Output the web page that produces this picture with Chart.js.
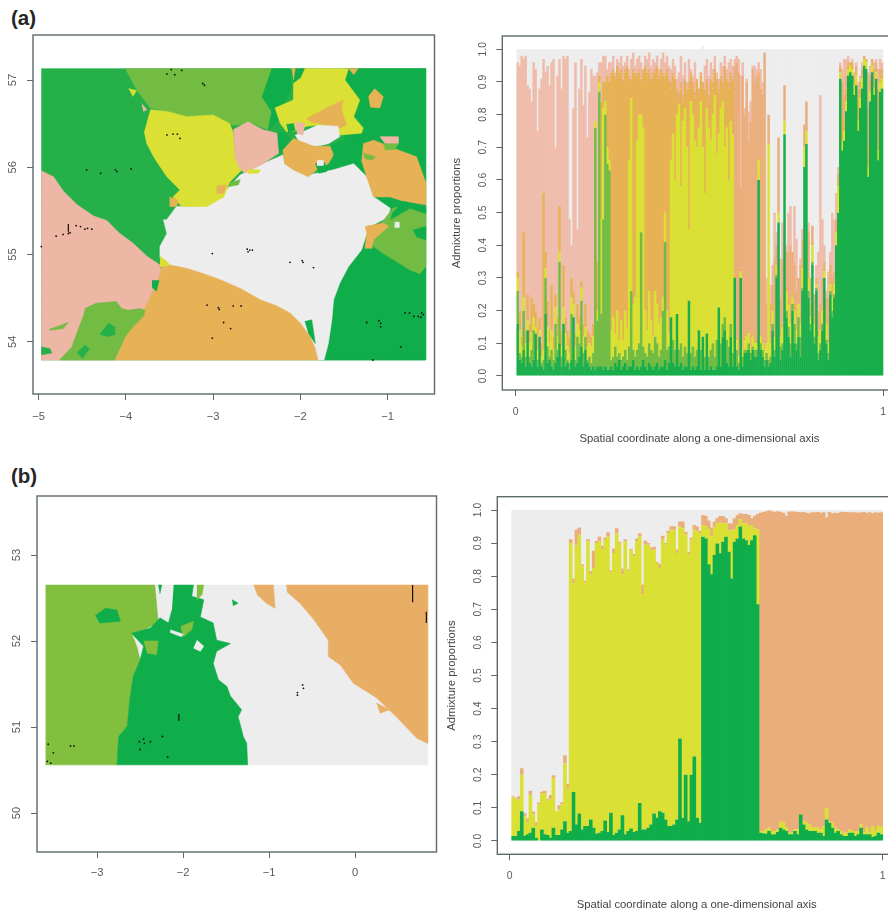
<!DOCTYPE html>
<html>
<head>
<meta charset="utf-8">
<title>Admixture maps</title>
<script src="https://cdn.jsdelivr.net/npm/chart.js@4"></script>
<style>
  html, body { margin: 0; padding: 0; width: 888px; height: 914px; overflow: hidden; background: #fff; }
  canvas { position: absolute; filter: blur(0.35px); }
  .tag { position: absolute; left: 11px; font: bold 20.5px "Liberation Sans", sans-serif; color: #262626; }
</style>
</head>
<body>
<div class="tag" style="top:6px">(a)</div>
<div class="tag" style="top:464px">(b)</div>
<canvas id="mapA"></canvas>
<canvas id="barsA"></canvas>
<canvas id="mapB"></canvas>
<canvas id="barsB"></canvas>
<script>
// ---- panel (a) map, lon/lat outlines ----
const aExtent = [[-4.97,57.13],[-0.565,57.13],[-0.565,53.79],[-4.97,53.79]];
const aEastDark = [[-1.5,57.13],[-0.565,57.13],[-0.565,53.79],[-1.8,53.79],[-1.8,56.2],[-1.5,56.3]];
const aCentreGrey = [[-3.53,55.40],[-3.42,55.55],[-3.23,55.55],[-3.04,55.59],[-2.85,55.74],[-2.69,55.91],[-2.43,56.04],[-2.20,56.14],[-2.18,56.04],[-2.08,55.97],[-1.91,55.91],[-1.62,55.97],[-1.39,56.04],[-1.24,55.89],[-1.16,55.66],[-0.97,55.53],[-0.99,55.43],[-1.20,55.32],[-1.24,55.24],[-1.30,55.05],[-1.45,54.86],[-1.55,54.67],[-1.62,54.48],[-1.64,54.25],[-1.68,53.98],[-1.73,53.79],[-1.80,53.79],[-2.2,54.3],[-3.0,54.7],[-3.59,54.86],[-3.61,54.98],[-3.61,55.09],[-3.53,55.24],[-3.57,55.40]];
const aSouthOrange = [[-3.59,54.86],[-3.50,54.88],[-3.30,54.84],[-3.11,54.78],[-2.92,54.71],[-2.69,54.61],[-2.46,54.48],[-2.27,54.41],[-2.12,54.33],[-2.00,54.21],[-1.89,54.06],[-1.83,53.92],[-1.80,53.79],[-4.13,53.79],[-3.99,54.08],[-3.84,54.33],[-3.72,54.52],[-3.65,54.67]];
const aWestPink = [[-4.97,55.96],[-4.83,55.89],[-4.72,55.73],[-4.56,55.57],[-4.37,55.44],[-4.22,55.39],[-4.07,55.24],[-3.92,55.13],[-3.76,54.98],[-3.61,54.88],[-3.60,54.82],[-3.65,54.67],[-3.72,54.52],[-3.84,54.29],[-3.99,54.10],[-4.13,53.79],[-4.97,53.79]];
const aSwLight = [[-4.47,54.38],[-4.34,54.44],[-4.11,54.46],[-4.05,54.38],[-3.97,54.36],[-3.84,54.38],[-3.78,54.36],[-3.80,54.29],[-3.92,54.17],[-4.01,54.06],[-4.13,53.79],[-4.76,53.79],[-4.62,53.94],[-4.55,54.13],[-4.49,54.29]];
const aSwSliver = [[-4.88,54.14],[-4.66,54.22],[-4.72,54.15],[-4.87,54.13]];
const aSwCorner = [[-4.97,53.94],[-4.87,53.92],[-4.85,53.87],[-4.97,53.85]];
const aSwPatch1 = [[-4.30,54.08],[-4.20,54.21],[-4.13,54.17],[-4.13,54.08],[-4.22,54.06]];
const aSwPatch2 = [[-4.56,53.87],[-4.47,53.96],[-4.42,53.92],[-4.50,53.81]];
const aNorthLight = [[-4.01,57.13],[-2.33,57.13],[-2.44,56.81],[-2.33,56.64],[-2.23,56.60],[-2.37,56.43],[-2.54,56.50],[-2.77,56.48],[-3.00,56.60],[-3.30,56.58],[-3.53,56.64],[-3.72,56.68],[-3.88,56.89]];
const aNorthDark = [[-2.33,57.13],[-2.12,57.13],[-2.10,56.92],[-2.16,56.77],[-2.27,56.66],[-2.22,56.60],[-2.31,56.48],[-2.37,56.43],[-2.33,56.64],[-2.44,56.81]];
const aMidDark = [[-2.31,56.35],[-2.20,56.41],[-2.12,56.33],[-2.16,56.27],[-2.18,56.18],[-2.27,56.16]];
const aTopDark = [[-2.06,57.13],[-1.95,57.13],[-2.00,57.02],[-2.08,56.96]];
const aWestYellow = [[-3.72,56.66],[-3.53,56.64],[-3.30,56.58],[-3.00,56.60],[-2.81,56.50],[-2.77,56.39],[-2.75,56.12],[-2.67,55.97],[-2.81,55.83],[-2.88,55.66],[-3.07,55.55],[-3.36,55.55],[-3.46,55.66],[-3.38,55.74],[-3.53,55.89],[-3.67,56.10],[-3.76,56.27],[-3.79,56.41]];
const aYellowFoot = [[-3.5,55.66],[-3.4,55.62],[-3.42,55.55],[-3.5,55.55]];
const aPinkSpot = [[-3.82,56.73],[-3.76,56.66],[-3.80,56.64]];
const aYellowStar = [[-3.97,56.90],[-3.88,56.88],[-3.92,56.81]];
const aCentrePink = [[-2.77,56.43],[-2.60,56.52],[-2.43,56.43],[-2.27,56.39],[-2.25,56.16],[-2.43,56.04],[-2.64,55.93],[-2.71,56.01],[-2.75,56.12]];
const aNorthYellow = [[-1.95,57.13],[-1.45,57.13],[-1.49,57.00],[-1.32,56.77],[-1.39,56.58],[-1.28,56.45],[-1.30,56.39],[-1.55,56.37],[-1.62,56.47],[-1.81,56.48],[-1.93,56.47],[-2.08,56.41],[-2.16,56.41],[-2.23,56.50],[-2.29,56.68],[-2.08,56.77],[-2.08,56.96],[-2.00,57.02]];
const aNorthPatch = [[-1.93,56.56],[-1.68,56.69],[-1.51,56.77],[-1.53,56.66],[-1.47,56.48],[-1.55,56.45],[-1.78,56.50],[-1.89,56.52]];
const aGreyBlob = [[-1.81,56.48],[-1.57,56.47],[-1.55,56.35],[-1.68,56.27],[-1.81,56.24],[-2.00,56.27],[-2.06,56.37]];
const aMidOrange = [[-2.08,56.33],[-1.85,56.24],[-1.66,56.24],[-1.62,56.14],[-1.68,56.04],[-1.81,55.97],[-1.91,55.89],[-2.08,55.97],[-2.18,56.04],[-2.20,56.20]];
const aClusterDark = [[-1.62,56.27],[-1.39,56.35],[-1.32,56.24],[-1.30,56.12],[-1.43,56.04],[-1.62,56.08]];
const aClusterDark2 = [[-1.83,56.04],[-1.72,56.05],[-1.70,55.95],[-1.79,55.93]];
const aEastPink = [[-1.09,56.35],[-0.88,56.35],[-0.88,56.27],[-1.01,56.24]];
const aEastOrange = [[-1.28,56.27],[-1.16,56.31],[-0.94,56.22],[-0.67,56.12],[-0.565,55.83],[-0.565,55.57],[-0.82,55.61],[-0.97,55.66],[-1.16,55.66],[-1.24,55.89],[-1.30,56.08]];
const aNeOrange = [[-1.22,56.81],[-1.15,56.90],[-1.05,56.81],[-1.09,56.68],[-1.20,56.69]];
const aTopOrange1 = [[-2.10,57.13],[-2.06,57.13],[-2.08,57.0]];
const aTopOrange2 = [[-1.45,57.13],[-1.34,57.13],[-1.39,57.06]];
const aSeLight = [[-1.07,55.36],[-0.94,55.53],[-0.74,55.57],[-0.565,55.55],[-0.565,54.86],[-0.63,54.78],[-0.74,54.82],[-0.90,54.92],[-1.05,55.01],[-1.16,55.09],[-1.18,55.17]];
const aSeOrange = [[-1.26,55.32],[-1.05,55.36],[-0.99,55.32],[-1.16,55.17],[-1.18,55.07],[-1.26,55.07],[-1.24,55.24]];
const aSeStrip = [[-0.95,55.47],[-0.82,55.61],[-0.565,55.55],[-0.565,55.47],[-0.74,55.53],[-0.97,55.40]];
const aSePatch = [[-0.71,55.28],[-0.565,55.32],[-0.565,55.17],[-0.67,55.20]];
const aSeHole = [[-0.92,55.37],[-0.87,55.37],[-0.87,55.31],[-0.92,55.31]];
const aGapDark = [[-1.95,54.23],[-1.87,54.25],[-1.83,53.98],[-1.91,54.10]];
const aJoinYellow = [[-3.61,54.98],[-3.53,54.92],[-3.50,54.88],[-3.61,54.86]];
const aJoinDark = [[-3.70,54.70],[-3.62,54.70],[-3.65,54.58],[-3.70,54.62]];
const aSpeckGrey = [[-1.81,56.08],[-1.74,56.08],[-1.74,56.02],[-1.81,56.02]];
const aSpeckDark = [[-2.16,56.49],[-2.08,56.50],[-2.06,56.42],[-2.14,56.40]];
const aSpeckPink = [[-2.06,56.52],[-1.95,56.50],[-1.97,56.37],[-2.04,56.39]];
const aSpeckLight1 = [[-1.28,56.16],[-1.14,56.12],[-1.18,56.08],[-1.26,56.10]];
const aSpeckLight2 = [[-1.05,56.27],[-0.88,56.27],[-0.92,56.20],[-1.03,56.20]];
const aSpeckLight3 = [[-2.81,55.82],[-2.69,55.86],[-2.71,55.80],[-2.81,55.78]];
const aSpeckOrange = [[-2.96,55.78],[-2.85,55.80],[-2.88,55.70],[-2.96,55.70]];
const aSpeckYellow = [[-2.62,55.97],[-2.46,55.97],[-2.48,55.93],[-2.60,55.93]];
const aDots = [[-4.45,55.97],[-4.29,55.93],[-4.12,55.97],[-4.10,55.95],[-3.94,55.98],[-3.53,57.07],[-3.48,57.12],[-3.44,57.06],[-3.36,57.11],[-3.12,56.96],[-3.10,56.94],[-3.53,56.37],[-3.46,56.38],[-3.41,56.38],[-3.38,56.33],[-4.97,55.09],[-4.80,55.21],[-4.72,55.23],[-4.66,55.24],[-4.64,55.25],[-4.57,55.33],[-4.52,55.32],[-4.47,55.29],[-4.44,55.30],[-4.39,55.29],[-3.01,55.01],[-2.61,55.06],[-2.60,55.03],[-2.58,55.05],[-2.55,55.05],[-2.12,54.91],[-1.98,54.93],[-1.97,54.91],[-1.85,54.85],[-3.07,54.42],[-2.94,54.39],[-2.93,54.37],[-2.77,54.41],[-2.68,54.41],[-2.88,54.22],[-2.80,54.15],[-3.01,54.04],[-1.24,54.22],[-1.10,54.24],[-1.08,54.21],[-1.08,54.17],[-0.85,53.94],[-1.17,53.79],[-0.80,54.33],[-0.75,54.33],[-0.70,54.29],[-0.65,54.29],[-0.61,54.33],[-0.59,54.31],[-0.62,54.28]];
const aMarkLine = [[-4.66,55.35],[-4.66,55.26]];

// ---- panel (a) bars, top of each layer in percent ----
const aTopDark_ = [
  16,5,4,8,3,14,4,3,5,13,3,12,3,2,19,4,5,3,2,4,6,10,3,16,3,4,2,5,18,3,4,6,9,3,8,4,3,2,3,
  2,3,3,3,2,3,2,2,
  3,2,4,3,5,2,3,4,2,3,3,5,2,3,2,3,5,3,2,4,3,2,3,4,2,3,3,5,2,4,
  18,4,3,19,3,4,2,3,3,23,2,3,2,3,14,2,12,2,13,2,3,2,2,3,21,3,12,14,4,3,12,3,
  30,3,2,30,3,7,7,8,5,8,6,6,60,8,6,3,
  5,3,4,14,6,30,47,5,8,74,18,12,6,20,10,8,12,6,26,64,71,24,14,34,10,26,5,8,14,30,10,5,25,18,24,40,50,
  91,69,72,81,92,93,92,86,89,75,82,88,95,94,61,84,93,86,91,66,87,88];
const aTopLight = [
  26,7,6,20,6,14,6,8,14,13,5,12,4,5,30,9,6,8,5,16,8,35,6,16,8,5,4,19,18,5,12,10,23,7,12,5,6,4,7,
  76,17,87,19,48,80,65,63,
  5,6,9,6,7,5,6,8,5,9,26,8,6,8,10,44,9,7,6,10,8,7,12,10,6,8,20,41,8,9,
  18,11,8,19,8,10,6,9,7,23,7,9,6,8,14,8,12,6,13,6,8,10,6,11,21,10,16,18,11,9,16,7,
  30,8,4,30,6,8,8,10,7,9,8,8,60,10,8,5,
  7,5,6,16,8,31,47,9,10,74,20,15,10,22,16,10,18,12,27,64,71,26,16,35,12,27,7,10,16,30,11,7,26,20,25,40,50,
  91,69,72,81,92,93,92,86,89,75,82,88,95,94,61,84,93,86,91,66,87,88];
const aTopYellow = [
  30,14,9,24,10,17,10,13,18,15,8,14,6,8,33,15,10,14,8,21,12,38,9,21,13,9,7,24,22,9,16,14,27,12,15,9,10,9,12,
  78,20,90,48,82,84,70,66,
  14,18,13,20,11,17,11,20,15,66,85,22,24,72,80,80,76,20,14,26,17,12,26,22,16,18,24,50,20,13,
  66,74,60,80,83,58,78,82,70,45,84,80,72,70,76,84,70,56,82,76,72,80,86,68,74,82,84,70,76,60,78,74,
  30,11,6,32,8,11,12,13,9,12,10,10,66,12,10,8,
  10,71,10,20,12,34,50,12,15,78,26,22,16,24,20,14,22,16,33,70,75,30,18,40,16,28,12,14,20,32,16,10,28,24,28,44,58,
  93,72,75,84,94,95,94,89,92,78,85,91,97,96,64,87,95,88,93,69,90,91];
const aTopGold = [
  32,20,12,44,14,25,16,24,22,20,15,18,10,56,38,23,14,28,12,25,18,52,14,34,18,14,12,30,26,13,22,18,29,16,22,14,13,12,16,
  78,35,92,84,90,90,92,90,
  92,93,91,94,92,93,90,93,94,91,90,93,92,92,93,90,93,94,92,93,90,92,93,94,91,93,92,91,93,90,
  88,92,90,86,85,88,84,90,86,88,92,88,85,90,86,92,88,86,90,84,90,88,93,90,86,91,88,94,90,88,92,90,
  31,12,7,33,9,12,13,14,10,13,11,11,67,13,11,9,
  10,71,11,22,14,34,50,14,16,78,27,24,18,25,22,16,22,20,34,70,75,32,22,41,18,29,14,15,21,33,18,12,29,25,29,45,60,
  94,80,78,88,95,96,96,90,93,86,88,92,97,97,70,90,96,90,94,72,91,92];
const aTopPeach = [
  32,20,12,44,14,25,16,24,22,20,15,18,10,56,38,23,14,28,12,25,18,52,14,34,18,14,12,30,26,13,22,18,29,16,22,14,13,12,16,
  78,35,92,84,90,90,92,90,
  93,94,92,95,93,94,91,94,95,92,91,94,93,93,94,91,94,95,93,94,91,93,94,95,92,94,93,92,94,91,
  90,93,91,88,87,90,86,91,88,90,93,90,87,91,88,93,90,88,91,86,91,90,94,91,88,92,90,95,91,90,93,91,
  95,96,93,58,92,80,90,72,78,94,90,92,93,88,86,99,
  22,80,22,28,36,40,73,24,36,89,38,38,40,38,34,26,30,34,42,77,84,44,30,46,25,30,20,22,30,35,24,24,34,30,32,48,62,
  95,90,86,92,96,96,96,92,95,88,90,94,98,97,82,92,97,94,96,88,94,94];
const aTopPink = [
  96,95,98,97,98,89,88,84,96,94,75,88,91,97,93,95,89,96,97,70,92,97,88,98,97,98,48,40,82,96,45,88,97,83,95,73,87,94,92,
  92,93,96,96,98,98,94,96,
  96,98,93,97,96,98,95,96,98,94,97,99,95,97,98,96,94,98,97,99,95,97,96,98,94,97,99,96,98,95,
  94,97,95,91,93,98,92,96,90,97,94,92,96,91,88,93,89,95,97,92,96,94,98,93,91,96,95,98,94,96,97,95,
  97,98,97,92,96,82,91,81,84,95,95,94,96,94,90,99,
  30,80,28,34,50,44,73,36,47,89,40,50,52,38,52,42,30,36,45,77,84,47,30,46,25,34,38,86,48,40,26,32,38,50,48,56,64,
  96,94,97,97,98,96,97,93,96,90,92,96,98,97,93,95,97,96,97,94,97,96];

// ---- panel (b) map ----
const bExtent = [[-3.60,52.65],[0.845,52.65],[0.845,50.56],[-3.60,50.56]];
const bWestLight = [[-3.60,52.65],[-2.33,52.65],[-2.31,52.44],[-2.29,52.21],[-2.46,52.13],[-2.60,52.09],[-2.54,51.94],[-2.50,51.78],[-2.58,51.59],[-2.62,51.32],[-2.65,51.01],[-2.75,50.89],[-2.77,50.56],[-3.60,50.56]];
const bCentreDark = [[-2.11,52.65],[-1.88,52.65],[-1.90,52.52],[-1.76,52.48],[-1.80,52.28],[-1.65,52.21],[-1.61,52.01],[-1.45,51.97],[-1.61,51.88],[-1.65,51.74],[-1.59,51.55],[-1.49,51.47],[-1.45,51.36],[-1.32,51.20],[-1.36,51.12],[-1.30,50.89],[-1.26,50.81],[-1.25,50.56],[-2.77,50.56],[-2.75,50.89],[-2.65,51.01],[-2.62,51.32],[-2.58,51.59],[-2.50,51.78],[-2.46,51.94],[-2.60,52.09],[-2.38,52.15],[-2.27,52.27],[-2.17,52.21],[-2.13,52.36]];
const bPatch1 = [[-2.46,52.0],[-2.29,52.0],[-2.31,51.84],[-2.42,51.86]];
const bPatch2 = [[-2.03,52.17],[-1.88,52.23],[-1.90,52.13],[-2.0,52.05]];
const bPatch3 = [[-1.84,52.65],[-1.76,52.65],[-1.78,52.54],[-1.84,52.48]];
const bWestSpot = [[-2.91,52.38],[-2.77,52.36],[-2.73,52.23],[-2.97,52.21],[-3.02,52.30]];
const bHole = [[-1.84,52.01],[-1.76,51.94],[-1.80,51.88],[-1.88,51.92]];
const bSliver = [[-2.15,52.13],[-2.0,52.08],[-2.02,52.05],[-2.15,52.10]];
const bTopSpeck = [[-2.29,52.65],[-2.25,52.65],[-2.27,52.55]];
const bGreenSpeck = [[-1.43,52.48],[-1.36,52.44],[-1.42,52.41]];
const bEastOrange = [[-0.80,52.65],[0.845,52.65],[0.845,50.81],[0.72,50.87],[0.48,51.12],[0.25,51.34],[-0.02,51.51],[-0.17,51.72],[-0.31,51.82],[-0.31,52.01],[-0.48,52.25],[-0.64,52.44],[-0.79,52.57]];
const bNorthOrange = [[-1.18,52.65],[-0.95,52.65],[-0.93,52.38],[-1.03,52.44],[-1.14,52.54]];
const bOrangeSpeck = [[0.25,51.28],[0.40,51.20],[0.29,51.16]];
const bDots = [[-0.67,51.40],[-0.67,51.37],[-0.61,51.49],[-0.60,51.45],[-3.57,50.80],[-3.51,50.70],[-3.31,50.78],[-3.27,50.78],[-2.51,50.83],[-2.46,50.86],[-2.45,50.81],[-2.38,50.83],[-2.24,50.89],[-2.50,50.74],[-2.18,50.65],[-3.58,50.60],[-3.54,50.58]];
const bMarkLine1 = [[0.67,52.65],[0.67,52.45]];
const bMarkLine2 = [[0.83,52.34],[0.83,52.21]];
const bMarkLine3 = [[-2.05,51.15],[-2.05,51.07]];

// ---- panel (b) bars, top of each layer in percent ----
const bTopDark = [
  1.5,1.5,3,9,1.5,2,2.5,4,1,0,3.5,2,1.8,1,4,1.8,1.8,3.5,6,2.5,
  3,14.8,5,8.3,3.5,4.5,4.5,6.5,4,2.2,2.5,3,6.2,2.7,8.5,1.8,2.5,3.5,7.8,2,3,3.8,2.7,3,11.5,3.5,3.5,4,5,8.3,7,9,8.5,6.5,4.5,4.5,5,6.5,31,7,20,6,20,25.5,7,5.5,
  91.9,91.4,83.6,80.6,86.4,89.9,86.9,90.4,91.9,87.4,79.3,90.4,91.4,95,91.4,90.9,89.4,90.9,92.4,71.5,
  2.5,2.3,2.3,3,2,2,2.7,4,3.5,3,2,2,3,2,8,5,3.5,3,3,3,2.5,2.5,1.5,6.5,5.5,4,2.5,3,2,1.5,1.5,2.5,2.5,1.5,2,4,2,2,2,1.2,1.5,2.5,2];
const bTopYellow = [
  13.3,12.5,12.5,20,7.5,5.5,14,8,4.5,11,14.5,14.5,12.2,12.5,19,8.8,9.5,11,23.5,15.5,
  90,77.8,89.3,92.5,83,78,90.5,80.5,82.5,90,90.5,88,91,92,81.2,87,93,90,80.5,90.5,81.5,88,86,90.5,92,74.5,89.5,89.5,88,88,84,82.5,91,89.5,93,94,94,87,95,94.5,92.5,86.5,91,94,93.5,93,
  95.5,95.2,94.1,92.1,94.7,96,96.2,96,96,93.9,93.9,94.1,95.5,97.2,96,96,95.2,95.5,94.4,94.1,
  3,3,3.5,4,3,3,3.5,5.8,5.5,4,2.5,2.5,3.5,3.5,8,6,5.5,5,4,4,4,3.5,4.5,10,6,5.5,4,3.5,3,2.5,2.5,3.5,3,3,3,5,2.5,4,2.5,4.5,3,4.5,4.5];
const bTopOrange = [
  13.5,13,13.5,22,8.4,6.9,15.2,8.9,5.7,11.6,14.9,15.2,12.7,13.9,19.9,8.9,10.8,11.7,25.9,17.3,
  91.2,79.3,94,94.7,83.5,78.6,91.2,81.6,87.7,90.7,92,89.2,91.7,93.3,81.7,88.4,94.5,90.4,82.3,91.2,82,88.3,86.7,91.4,93,77.5,90.7,90,88.7,88.9,84.3,83.8,92.2,90,93.7,95.1,95.1,88.1,96.5,96.5,93.4,87.4,91.7,95.5,95,93.7,
  98.5,98.2,96.8,94.7,96.5,97.5,98.2,98.2,97.5,96,96,97.5,98.5,99,98.8,98.8,98.5,97.5,98.2,98.8,
  99.2,99.4,99.6,99.9,99.6,99.5,99.6,99.5,99.2,98.3,99.5,99.6,99.5,99.4,99.3,99.4,99.2,99,99.3,99.3,99.4,99.2,99.3,97.8,99.4,99,99.2,99.1,99.5,99.4,99.4,99.3,99.3,99.3,99.2,99.3,99.4,99.2,99.3,99,99.3,99.2,99.3];

const AXIS = "#5d6a6c";
const TEXT = "#5a5a5a";
const DARK = "#10ad4b";
const GREEN = "#25b04a";
const LIGHT = "#72bc44";
const YELLOW = "#dae034";
const GOLD = "#e6b255";
const PEACH = "#eaae7c";
const PINK = "#eeb6a4";
const GREY = "#ecedec";

Chart.defaults.font.family = '"Liberation Sans", Arial, sans-serif';
Chart.defaults.color = TEXT;

// R style box round the plot
const boxPlugin = {
  id: "box",
  afterDraw(chart) {
    const a = chart.chartArea, ctx = chart.ctx;
    ctx.save();
    ctx.strokeStyle = AXIS;
    ctx.lineWidth = 1.4;
    ctx.strokeRect(a.left, a.top, a.right - a.left, a.bottom - a.top);
    ctx.restore();
  },
};

function toPoints(list) {
  return list.map((p) => ({ x: p[0], y: p[1] }));
}

function region(list, color) {
  return { data: toPoints(list), showLine: true, fill: "shape", backgroundColor: color, borderColor: color, borderWidth: 0.6, pointRadius: 0, order: 0 };
}

function axes(p) {
  const tick = { display: true, drawOnChartArea: false, drawTicks: true, tickLength: 6, color: AXIS, lineWidth: 1, offset: false };
  const noPad = (s) => { s.paddingLeft = s.paddingRight = s.paddingTop = s.paddingBottom = 0; };
  const x = {
    type: "linear", offset: false, min: p.xRange[0], max: p.xRange[1], border: { display: false }, grid: tick,
    ticks: {
      stepSize: p.xStep, includeBounds: false, padding: p.xPad, maxRotation: 0, font: { size: p.size },
      callback: (v) => String(v).replace("-", "\u2212"),
    },
    afterFit: (s) => { s.height = p.bottom; noPad(s); },
  };
  const y = {
    type: "linear", min: p.yRange[0], max: p.yRange[1], border: { display: false }, grid: tick,
    ticks: {
      stepSize: p.yStep, includeBounds: false, padding: p.yPad, minRotation: 90, maxRotation: 90, crossAlign: "center", font: { size: p.size },
      callback: (v) => (p.yStep < 1 ? v.toFixed(1) : String(v)),
    },
    afterFit: (s) => { s.width = p.left; noPad(s); },
  };
  if (p.bars) {
    x.stacked = true;
    y.stacked = true;
    x.title = { display: true, text: "Spatial coordinate along a one-dimensional axis", font: { size: 11.3 }, color: "#444", padding: { top: 0, bottom: 2 } };
    y.title = { display: true, text: "Admixture proportions", font: { size: 11.3 }, color: "#444", padding: { top: p.titlePad, bottom: 0 } };
  }
  return { x, y };
}

function makeChart(id, p, type, datasets) {
  const c = document.getElementById(id);
  c.width = p.w;
  c.height = p.h;
  c.style.left = p.x + "px";
  c.style.top = p.y + "px";
  // the first region in the list goes underneath
  if (type === "scatter") datasets.forEach((d, i) => { d.order = datasets.length - i; });
  return new Chart(c, {
    type,
    data: { datasets },
    options: {
      responsive: false,
      animation: false,
      layout: { padding: { left: 0, top: p.top, right: p.right, bottom: 0 } },
      plugins: { legend: { display: false }, tooltip: { enabled: false } },
      scales: axes(p),
    },
    plugins: [boxPlugin],
  });
}

function barLayers(tops, colors, start) {
  const n = tops[0].length;
  const all = tops.concat([tops[0].map(() => 100)]);
  return all.map((t, k) => ({
    data: t.map((v, i) => ({
      x: start + ((i + 0.5) / n) * (1 - start),
      y: Math.max(0, v - (k ? all[k - 1][i] : 0)) / 100,
    })),
    backgroundColor: colors[k],
    borderWidth: 0,
    barPercentage: 1.25,
    categoryPercentage: 1,
  }));
}

makeChart("mapA", { x: 0, y: 25, w: 445, h: 420, left: 33, top: 10, right: 10.5, bottom: 51, size: 11.2, xPad: 10, yPad: 8, xStep: 1, yStep: 1, xRange: [-5.065, -0.463], yRange: [53.40, 57.516] }, "scatter", [
  region(aExtent, GREEN),
  region(aEastDark, DARK),
  region(aCentreGrey, GREY),
  region(aSouthOrange, GOLD),
  region(aWestPink, PINK),
  region(aSwLight, LIGHT),
  region(aSwSliver, LIGHT),
  region(aSwCorner, GREEN),
  region(aSwPatch1, GREEN),
  region(aSwPatch2, GREEN),
  region(aNorthLight, LIGHT),
  region(aNorthDark, DARK),
  region(aMidDark, DARK),
  region(aTopDark, DARK),
  region(aWestYellow, YELLOW),
  region(aYellowFoot, GOLD),
  region(aPinkSpot, PINK),
  region(aYellowStar, YELLOW),
  region(aCentrePink, PINK),
  region(aNorthYellow, YELLOW),
  region(aNorthPatch, GOLD),
  region(aGreyBlob, GREY),
  region(aMidOrange, GOLD),
  region(aClusterDark, DARK),
  region(aClusterDark2, DARK),
  region(aEastOrange, GOLD),
  region(aEastPink, PINK),
  region(aNeOrange, GOLD),
  region(aTopOrange1, GOLD),
  region(aTopOrange2, GOLD),
  region(aSeLight, LIGHT),
  region(aSeOrange, GOLD),
  region(aSeStrip, DARK),
  region(aSePatch, DARK),
  region(aSeHole, GREY),
  region(aGapDark, DARK),
  region(aJoinYellow, YELLOW),
  region(aJoinDark, DARK),
  region(aSpeckGrey, GREY),
  region(aSpeckDark, DARK),
  region(aSpeckPink, PINK),
  region(aSpeckLight1, LIGHT),
  region(aSpeckLight2, LIGHT),
  region(aSpeckLight3, LIGHT),
  region(aSpeckOrange, GOLD),
  region(aSpeckYellow, YELLOW),
  { data: toPoints(aMarkLine), showLine: true, borderColor: "#111", borderWidth: 1.2, pointRadius: 0 },
  { data: toPoints(aDots), backgroundColor: "#111", borderWidth: 0, pointRadius: 0.9 },
]);

makeChart("barsA", { x: 445, y: 26, w: 455, h: 422, left: 57.3, top: 10, right: 3.5, bottom: 58, size: 10.4, bars: true, titlePad: 5, xPad: 10, yPad: 5.5, xStep: 1, yStep: 0.1, xRange: [-0.0365, 1.0365], yRange: [-0.0429, 1.0407] }, "bar",
  barLayers([aTopDark_, aTopLight, aTopYellow, aTopGold, aTopPeach, aTopPink], ["#18ae4b", LIGHT, YELLOW, GOLD, PEACH, "#efbbaa", GREY], 0.0027));

makeChart("mapB", { x: 0, y: 486, w: 445, h: 420, left: 37, top: 10, right: 8.5, bottom: 54, size: 11.2, xPad: 8, yPad: 8, xStep: 1, yStep: 1, xRange: [-3.70, 0.948], yRange: [49.547, 53.686] }, "scatter", [
  region(bExtent, GREY),
  region(bWestLight, "#82bf3f"),
  region(bCentreDark, DARK),
  region(bPatch1, "#82bf3f"),
  region(bPatch2, "#82bf3f"),
  region(bPatch3, "#82bf3f"),
  region(bWestSpot, DARK),
  region(bHole, GREY),
  region(bSliver, GREY),
  region(bTopSpeck, DARK),
  region(bGreenSpeck, DARK),
  region(bEastOrange, "#e9ae66"),
  region(bNorthOrange, "#e9ae66"),
  region(bOrangeSpeck, "#e9ae66"),
  { data: toPoints(bMarkLine1), showLine: true, borderColor: "#111", borderWidth: 1.2, pointRadius: 0 },
  { data: toPoints(bMarkLine2), showLine: true, borderColor: "#111", borderWidth: 1.2, pointRadius: 0 },
  { data: toPoints(bMarkLine3), showLine: true, borderColor: "#111", borderWidth: 1.2, pointRadius: 0 },
  { data: toPoints(bDots), backgroundColor: "#111", borderWidth: 0, pointRadius: 0.9 },
]);

makeChart("barsB", { x: 437, y: 487, w: 463, h: 427, left: 60.3, top: 9.7, right: 4, bottom: 59.7, size: 10.4, bars: true, titlePad: 8, xPad: 10, yPad: 5.5, xStep: 1, yStep: 0.1, xRange: [-0.0332, 1.0357], yRange: [-0.0402, 1.0402] }, "bar",
  barLayers([bTopDark, bTopYellow, bTopOrange], [DARK, YELLOW, "#eaae7c", GREY], 0.0054));
</script>
</body>
</html>
